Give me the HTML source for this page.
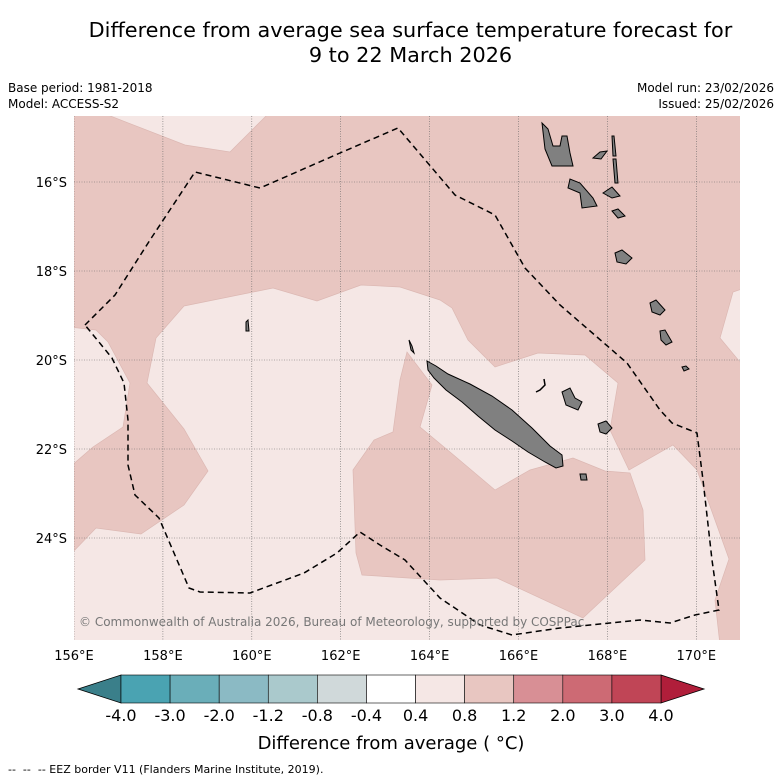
<!DOCTYPE html>
<html><head><meta charset="utf-8"><style>
body{margin:0;background:#fff;font-family:"DejaVu Sans","Liberation Sans",sans-serif;}
#wrap{position:relative;width:781px;height:781px;overflow:hidden;}
.t{position:absolute;color:#000;white-space:nowrap;}
</style></head><body>
<div id="wrap">
<div class="t" style="left:0;width:821px;top:18px;text-align:center;font-size:20.8px;line-height:25px;">Difference from average sea surface temperature forecast for<br>9 to 22 March 2026</div>
<div class="t" style="left:8px;top:80px;font-size:12px;line-height:16px;">Base period: 1981-2018<br>Model: ACCESS-S2</div>
<div class="t" style="right:7px;top:80px;font-size:12px;line-height:16px;text-align:right;">Model run: 23/02/2026<br>Issued: 25/02/2026</div>
<svg id="map" width="781" height="781" style="position:absolute;left:0;top:0"></svg>
<div class="t" style="left:8px;top:763px;font-size:11px;">-- &nbsp;-- &nbsp;-- EEZ border V11 (Flanders Marine Institute, 2019).</div>
</div>
<script>
const lonTicks=[156,158,160,162,164,166,168,170];
const latTicks=[16,18,20,22,24];
const cbLevels=["-4.0","-3.0","-2.0","-1.2","-0.8","-0.4","0.4","0.8","1.2","2.0","3.0","4.0"];
const cbColors=["#4aa3b2","#6aaeb9","#8bbac4","#aac9cc","#d0d9da","#ffffff","#f5e7e5","#e8c6c1","#d88f95","#cd6a74","#c04556"];
const NS="http://www.w3.org/2000/svg";
const FF='DejaVu Sans, Liberation Sans, sans-serif';
const svg=document.getElementById('map');
const X0=74,X1=740,Y0=116,Y1=640;
function lx(lon){return 74+(lon-156)*44.45;}
function ly(lat){return 182+(lat-16)*44.5;}
function mk(t,a,p){const e=document.createElementNS(NS,t);for(const k in a)e.setAttribute(k,a[k]);(p||svg).appendChild(e);return e;}
function pts(a){return a.map(p=>p.join(',')).join(' ');}
const defs=mk('defs',{});const cp=mk('clipPath',{id:'cp'},defs);mk('rect',{x:X0,y:Y0,width:X1-X0,height:Y1-Y0},cp);
const g=mk('g',{'clip-path':'url(#cp)'});

mk('rect',{x:X0,y:Y0,width:X1-X0,height:Y1-Y0,fill:'#e8c6c1'},g);
const light=[
[[95,110],[185,145],[230,152],[272,110]],
[[70,327],[96,330],[108,342],[130,383],[123,427],[93,447],[70,467]],
[[70,555],[96,528],[141,534],[184,505],[208,471],[184,429],[147,383],[156,338],[184,306],[273,288],[317,301],[361,285],[400,287],[440,300],[452,308],[468,340],[495,367],[538,353],[585,355],[618,383],[610,430],[629,470],[673,445],[697,470],[729,559],[715,600],[720,645],[70,645]],
[[745,288],[733,292],[720,338],[745,368]]
];
light.forEach(p=>{const e=mk('polygon',{points:pts(p),fill:'#f5e7e5',stroke:'#dcb8b3','stroke-width':0.7},g);});
const dark=[[353,470],[374,440],[393,432],[400,380],[407,352],[432,385],[420,427],[450,452],[495,490],[530,470],[573,458],[605,471],[630,473],[643,510],[645,560],[583,618],[497,578],[440,580],[362,575],[356,553]];
const dk=mk('polygon',{points:pts(dark),fill:'#e8c6c1',stroke:'#dcb8b3','stroke-width':0.7},g);

lonTicks.forEach(l=>{const e=mk('line',{x1:lx(l),x2:lx(l),y1:Y0,y2:Y1,stroke:'#666','stroke-width':0.6,'stroke-dasharray':'1,1.5'},g);});
latTicks.forEach(l=>{const e=mk('line',{x1:X0,x2:X1,y1:ly(l),y2:ly(l),stroke:'#666','stroke-width':0.6,'stroke-dasharray':'1,1.5'},g);});
const isl=[
[[427,361],[436,366],[448,374],[470,384],[492,396],[512,410],[532,428],[550,446],[562,455],[563,466],[556,468],[545,462],[528,452],[512,441],[495,430],[478,416],[462,402],[446,390],[434,378],[428,370]],
[[542,123],[545,149],[552,166],[563,166],[573,166],[570,153],[567,136],[562,136],[560,146],[553,146],[548,129]],
[[570,179],[568,188],[580,193],[582,208],[597,206],[593,198],[580,183]],
[[593,158],[600,152],[607,151],[601,159]],
[[612,136],[614,136],[616,156],[613,156]],
[[613,159],[616,159],[618,183],[615,183]],
[[603,193],[612,187],[620,196],[612,198]],
[[612,211],[618,209],[625,216],[618,218]],
[[615,253],[622,250],[632,258],[626,264],[617,262]],
[[650,303],[656,300],[665,310],[660,315],[652,312]],
[[660,331],[665,330],[672,342],[666,345],[661,340]],
[[682,367],[686,366],[689,369],[684,371]],
[[562,392],[570,388],[575,398],[582,402],[578,410],[566,405]],
[[598,424],[606,421],[612,428],[606,434],[600,432]],
[[580,474],[586,474],[587,480],[581,480]],
[[246,322],[248,320],[249,331],[246,331]],
[[409,340],[412,346],[414,353],[411,350]]
];
isl.forEach(p=>{const e=mk('polygon',{points:pts(p),fill:'#808080',stroke:'#000','stroke-width':1},g);});
const ouv=mk('path',{d:'M544 379 L545 385 L540 390 L536 392',fill:'none',stroke:'#000','stroke-width':1.5},g);

const eez=[[85,325],[115,295],[150,240],[195,172],[260,188],[340,153],[398,128],[455,195],[495,215],[525,268],[560,305],[597,337],[627,363],[660,410],[672,423],[697,433],[703,480],[712,560],[719,610],[695,615],[670,623],[640,620],[600,624],[560,628],[512,635],[480,625],[440,598],[405,560],[380,545],[360,532],[337,553],[304,573],[250,593],[200,592],[189,588],[159,518],[135,495],[128,465],[128,420],[124,383],[112,358],[85,325]];
const ez=mk('polyline',{points:pts(eez),fill:'none',stroke:'#000','stroke-width':1.5,'stroke-dasharray':'6,4'},g);

const cr=mk('text',{x:79,y:626,'font-size':12,fill:'#777','font-family':FF},g);
cr.textContent='© Commonwealth of Australia 2026, Bureau of Meteorology, supported by COSPPac';

lonTicks.forEach(l=>{const e=mk('text',{x:lx(l),y:660,'text-anchor':'middle','font-size':13,'font-family':FF});e.textContent=l+'°E';});
latTicks.forEach(l=>{const e=mk('text',{x:67,y:ly(l)+5,'text-anchor':'end','font-size':13,'font-family':FF});e.textContent=l+'°S';});
const cbX=121,cbEnd=661,cbY=675,cbH=28;
const cbW=(cbEnd-cbX)/cbColors.length;
const lt=mk('polygon',{points:pts([[78,cbY+cbH/2],[cbX,cbY],[cbX,cbY+cbH]]),fill:'#3a7f8a',stroke:'#000','stroke-width':0.8});

const rt=mk('polygon',{points:pts([[cbEnd,cbY],[704,cbY+cbH/2],[cbEnd,cbY+cbH]]),fill:'#b01e3a',stroke:'#000','stroke-width':0.8});

cbColors.forEach((c,i)=>{const e=mk('rect',{x:cbX+i*cbW,y:cbY,width:cbW,height:cbH,fill:c,stroke:'#000','stroke-width':0.6});});
cbLevels.forEach((t,i)=>{const e=mk('text',{x:cbX+i*cbW,y:721,'text-anchor':'middle','font-size':16,'font-family':FF});e.textContent=t;});
const ct=mk('text',{x:391,y:749,'text-anchor':'middle','font-size':18,'font-family':FF});
ct.textContent='Difference from average ( °C)';

</script>
</body></html>
